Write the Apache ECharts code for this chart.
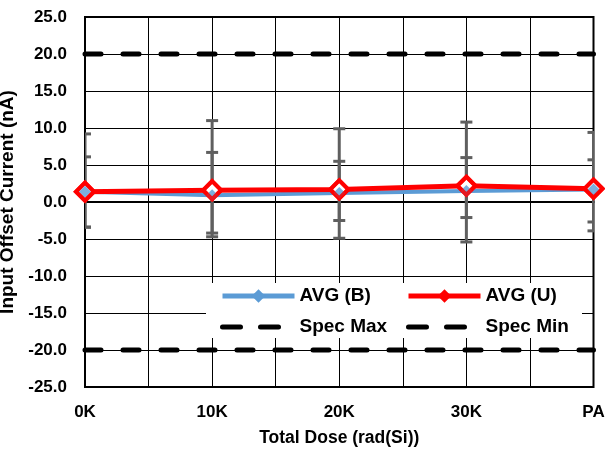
<!DOCTYPE html>
<html>
<head>
<meta charset="utf-8">
<script src="https://cdn.jsdelivr.net/npm/echarts@6/dist/echarts.min.js"></script>
<style>html,body{margin:0;padding:0;background:#fff}#c{width:605px;height:452px}</style>
</head>
<body>
<div id="c"></div>
<script>
const categories = ['0K', '10K', '20K', '30K', 'PA'];
const yTicks = [-25, -20, -15, -10, -5, 0, 5, 10, 15, 20, 25];
const avgB = [1.4, 0.9, 1.2, 1.5, 1.7];
const avgU = [1.4, 1.6, 1.7, 2.2, 1.8];
const errBHigh = [6.1, 6.7, 5.5, 6.0, 5.7];
const errBLow = [-3.4, -4.2, -2.5, -2.1, -2.7];
const errUHigh = [9.2, 11.0, 9.9, 10.8, 9.4];
const errULow = [-3.4, -4.7, -4.9, -5.4, -3.9];
const specMax = 20;
const specMin = -20;

const FONT = 'Liberation Sans, Arial, sans-serif';
const txt = {fontFamily: FONT, fontWeight: 'bold', fontSize: 17, color: '#000'};
const BLUE = '#5b9bd5', RED = '#ff0000', ERR = '#5f5f5f';

const pts = arr => arr.map((v, i) => [i, v]);
const errData = (hi, lo) => hi.map((h, i) => [i, h, lo[i]]);

function renderErr(params, api) {
  const x = api.value(0);
  const top = api.coord([x, api.value(1)]);
  const bot = api.coord([x, api.value(2)]);
  const cw = 6;
  const st = {stroke: ERR, lineWidth: 3};
  return {
    type: 'group',
    children: [
      {type: 'line', shape: {x1: top[0], y1: top[1], x2: bot[0], y2: bot[1]}, style: st},
      {type: 'line', shape: {x1: top[0] - cw, y1: top[1], x2: top[0] + cw, y2: top[1]}, style: st},
      {type: 'line', shape: {x1: bot[0] - cw, y1: bot[1], x2: bot[0] + cw, y2: bot[1]}, style: st}
    ]
  };
}

const chart = echarts.init(document.getElementById('c'), null, {renderer: 'canvas'});
const specStyle = {color: '#000', width: 5, type: [16, 22], cap: 'round'};
const legSpec = name => ({name: name, lineStyle: {color: '#000', width: 5, type: [18, 20], cap: 'round', dashOffset: 0}, itemStyle: {color: 'rgba(0,0,0,0)', borderColor: 'rgba(0,0,0,0)', borderWidth: 0, opacity: 0}});
const legCommon = {orient: 'vertical', itemWidth: 72, itemHeight: 17, itemGap: 12, padding: 0, z: 5, top: 286.5,
  textStyle: Object.assign({}, txt, {fontSize: 19}), selectedMode: false};
chart.setOption({
  animation: false,
  backgroundColor: '#fff',
  grid: {left: 85, right: 11.5, top: 17, bottom: 65, containLabel: false, outerBoundsMode: 'none', show: true, borderColor: '#000', borderWidth: 2, backgroundColor: 'transparent'},
  xAxis: {
    type: 'value', min: 0, max: categories.length - 1, interval: 0.5,
    name: 'Total Dose (rad(Si))', nameLocation: 'middle', nameGap: 42,
    nameTextStyle: Object.assign({}, txt, {fontSize: 17.5}),
    axisLine: {show: true, lineStyle: {color: '#000', width: 2}},
    axisTick: {show: false},
    axisLabel: Object.assign({margin: 17, formatter: v => Number.isInteger(v) ? categories[v] : ''}, txt),
    splitLine: {show: true, lineStyle: {color: '#000', width: 1}}
  },
  yAxis: {
    type: 'value', min: yTicks[0], max: yTicks[yTicks.length - 1], interval: 5,
    name: 'Input Offset Current (nA)', nameLocation: 'middle', nameGap: 49,
    nameTextStyle: Object.assign({}, txt, {fontSize: 19}),
    axisLine: {show: true, lineStyle: {color: '#000', width: 2}},
    axisTick: {show: false},
    axisLabel: Object.assign({margin: 18, formatter: v => v.toFixed(1)}, txt),
    splitLine: {show: true, lineStyle: {color: '#000', width: 1}}
  },
  graphic: [{type: 'rect', z: 1, shape: {x: 206, y: 283, width: 376, height: 55}, style: {fill: '#fff'}}],
  legend: [
    Object.assign({left: 220, data: [
      {name: 'AVG (B)', lineStyle: {color: BLUE, width: 5}, itemStyle: {color: BLUE}},
      legSpec('Spec Max')]}, legCommon),
    Object.assign({left: 406, data: [
      {name: 'AVG (U)', lineStyle: {color: RED, width: 5}, itemStyle: {color: RED, borderColor: RED, borderWidth: 0}},
      legSpec('Spec Min')]}, legCommon)
  ],
  series: [
    {name: 'errB', type: 'custom', z: 1, clip: true, renderItem: renderErr, data: errData(errBHigh, errBLow), silent: true},
    {name: 'errU', type: 'custom', z: 1, clip: true, renderItem: renderErr, data: errData(errUHigh, errULow), silent: true},
    {name: 'Spec Max', type: 'line', z: 2, symbol: 'none', data: [[0, specMax], [categories.length - 1, specMax]], lineStyle: specStyle, itemStyle: {color: '#000'}, silent: true},
    {name: 'Spec Min', type: 'line', z: 2, symbol: 'none', data: [[0, specMin], [categories.length - 1, specMin]], lineStyle: specStyle, itemStyle: {color: '#000'}, silent: true},
    {name: 'AVG (B)', type: 'line', z: 3, data: pts(avgB), symbol: 'diamond', symbolSize: 12,
     lineStyle: {color: BLUE, width: 4}, itemStyle: {color: BLUE}, silent: true},
    {name: 'AVG (U)', type: 'line', z: 4, data: pts(avgU), symbol: 'diamond', symbolSize: 18,
     lineStyle: {color: RED, width: 5}, itemStyle: {color: '#fff', borderColor: RED, borderWidth: 4}, silent: true},
    {name: 'bMarks', type: 'scatter', z: 5, clip: false, data: pts(avgB), symbol: 'diamond', symbolSize: 12,
     itemStyle: {color: BLUE}, silent: true},
    {name: 'uMarks', type: 'scatter', z: 6, clip: false, data: pts(avgU), symbol: 'diamond', symbolSize: 18,
     itemStyle: {color: 'rgba(0,0,0,0)', borderColor: RED, borderWidth: 4}, silent: true}
  ]
});
</script>
</body>
</html>
